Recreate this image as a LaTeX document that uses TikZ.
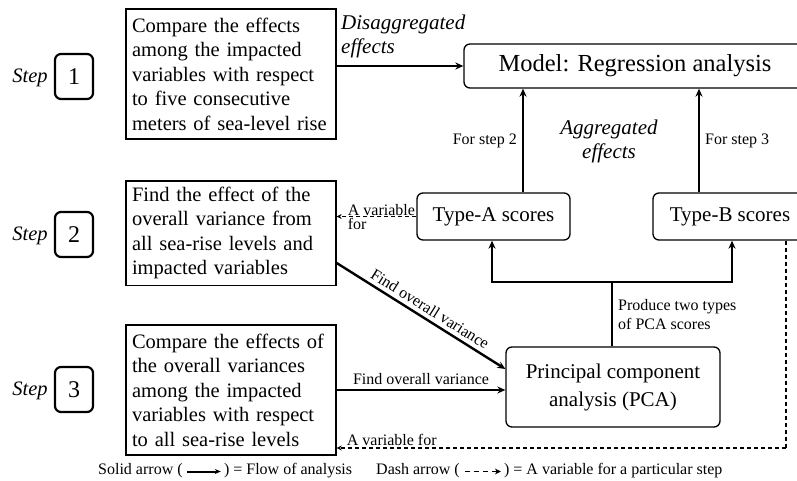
\documentclass[tikz,border=0pt]{standalone}
\usepackage{fontspec}
\setmainfont{Liberation Serif}
\usetikzlibrary{arrows.meta,positioning,calc}
\begin{document}
\begin{tikzpicture}[x=1pt,y=-1pt,
  txtbox/.style={draw,line width=1.3pt,align=left,inner sep=6pt,text width=198pt,minimum width=210pt,font=\fontsize{20.5}{24.5}\selectfont},
  rbox/.style={draw,line width=1.3pt,rounded corners=6pt,align=center},
  stepbox/.style={draw,line width=2.2pt,rounded corners=6pt,minimum width=38pt,minimum height=45pt,inner sep=0pt,font=\fontsize{24}{26}\selectfont},
  steplbl/.style={font=\fontsize{20.5}{22}\selectfont\itshape},
  flow/.style={line width=2.4pt,-{Stealth[length=8pt,width=7pt]}},
  flowline/.style={line width=2.4pt},
  dasharrow/.style={line width=1.1pt,dashed,dash pattern=on 4pt off 3pt,-{Stealth[length=5pt,width=5pt]}},
  dashline/.style={line width=1.1pt,dashed,dash pattern=on 4pt off 3pt},
  small/.style={font=\fontsize{16}{19}\selectfont},
  ital/.style={font=\fontsize{21}{24}\selectfont\itshape,align=left},
  legend/.style={font=\fontsize{16}{18}\selectfont,inner sep=0pt}
]
\clip (0,0) rectangle (797,481);
\fill[white] (0,0) rectangle (797,481);

% left text boxes
\node[txtbox,minimum height=130pt] (b1) at (231,74) {Compare the effects\\among the impacted\\variables with respect\\to five consecutive\\meters of sea-level rise};
\node[txtbox,minimum height=104pt] (b2) at (231,233) {Find the effect of the\\overall variance from\\all sea-rise levels and\\impacted variables};
\node[txtbox,minimum height=130pt] (b3) at (231,390) {Compare the effects of\\the overall variances\\among the impacted\\variables with respect\\to all sea-rise levels};

% step boxes
\node[stepbox] (s1) at (74,76.5) {1};
\node[stepbox] (s2) at (74,234.5) {2};
\node[stepbox] (s3) at (74,389.5) {3};
\node[steplbl,anchor=east,inner sep=0pt] (t1) at ([xshift=-6pt,yshift=-1pt]s1.west) {Step};
\node[steplbl,anchor=east,inner sep=0pt] (t2) at ([xshift=-6pt,yshift=-1pt]s2.west) {Step};
\node[steplbl,anchor=east,inner sep=0pt] (t3) at ([xshift=-6pt,yshift=-1pt]s3.west) {Step};

% right boxes
\node[rbox,minimum width=342pt,minimum height=44pt,font=\fontsize{24.5}{28}\selectfont] (model) at (635,66) {Model: Regression analysis};
\node[rbox,minimum width=153pt,minimum height=47pt,font=\fontsize{21}{24}\selectfont] (tA) at (493.5,216.5) {Type-A scores};
\node[rbox,minimum width=154pt,minimum height=47pt,font=\fontsize{21}{24}\selectfont] (tB) at (730,216.5) {Type-B scores};
\node[rbox,minimum width=214pt,minimum height=80pt,font=\fontsize{21}{28}\selectfont] (pca) at (613,387) {Principal component\\analysis (PCA)};

% step 1 flow
\draw[flow] (b1.east |- model.west) -- (model.west);
\node[ital,anchor=west,inner sep=0pt] (dis) at (341,36) {Disaggregated\\effects};

% scores to model
\draw[flow] ([xshift=29.5pt]tA.north) -- ([xshift=29.5pt]tA.north |- model.south)
  node[pos=0.5,left,small,inner sep=5pt] (fs2) {For step 2};
\draw[flow] ([xshift=-31pt]tB.north) -- ([xshift=-31pt]tB.north |- model.south)
  node[pos=0.5,right,small,inner sep=5pt] (fs3) {For step 3};
\node[ital,align=center,inner sep=0pt] (agg) at (609,141) {Aggregated\\effects};

% PCA to scores
\coordinate (junc) at (612,282);
\draw[flowline] (pca.north -| junc) -- (junc)
  node[pos=0.5,right,small,align=left,inner sep=5pt] (prod) {Produce two types\\of PCA scores};
\draw[flow] (junc) -| ([xshift=-1.5pt]tA.south);
\draw[flow] (junc) -| ([xshift=2pt]tB.south);

% to PCA
\coordinate (d2) at ($(b2.east)+(0,30)$);
\coordinate (p2) at ($(pca.west)+(0,-18)$);
\draw[flow] (d2) -- (p2) node[pos=0.52,sloped,above,small,inner sep=4pt] (fov1) {Find overall variance};
\draw[flow] (b3.east) -- (b3.east -| pca.west) node[pos=0.5,above,small,inner sep=4pt] (fov2) {Find overall variance};

% dashed
\draw[dasharrow] (tA.west) -- (tA.west -| b2.east);
\node[small,anchor=south west,inner sep=1pt] (av1) at ($(tA.west -| b2.east)+(10,0)$) {A variable};
\node[small,anchor=north west,inner sep=1pt] (av1b) at ($(tA.west -| b2.east)+(10,1)$) {for};

\coordinate (cb) at (786,448);
\draw[dashline] ([xshift=56pt]tB.south) -- (cb);
\draw[dasharrow] (cb) -- (cb -| b3.east);
\node[small,anchor=south west,inner sep=1pt] (av2) at ($(cb -| b3.east)+(9,-1)$) {A variable for};

% legend
\node[legend,anchor=west] (l1) at (98,471) {Solid arrow (};
\node[legend,anchor=west] (l2) at ($(l1.east)+(41,0)$) {) = Flow of analysis};
\draw[line width=2pt,-{Stealth[length=6pt,width=5pt]}] ($(l1.east)+(4,0.5)$) -- ($(l2.west)+(-3,0.5)$);
\node[legend,anchor=west] (l3) at (376,471) {Dash arrow (};
\node[legend,anchor=west] (l4) at ($(l3.east)+(44,0)$) {) = A variable for a particular step};
\draw[line width=1.4pt,dashed,dash pattern=on 5pt off 4pt,-{Stealth[length=6pt,width=6pt]}] ($(l3.east)+(5,0.5)$) -- ($(l4.west)+(-3,0.5)$);
\end{tikzpicture}
\end{document}
